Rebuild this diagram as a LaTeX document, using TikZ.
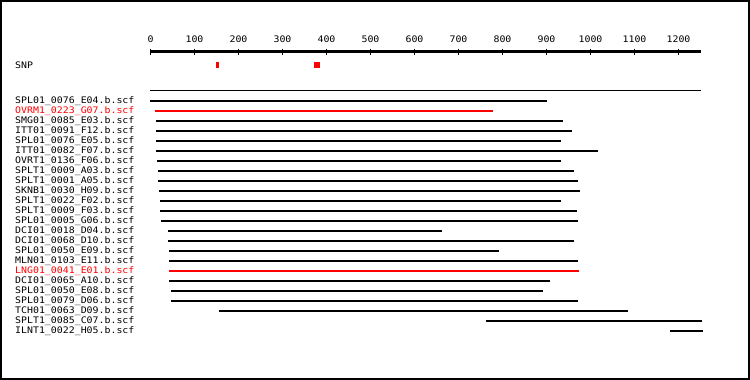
\documentclass[tikz,border=0pt]{standalone}
\usepackage{fontspec}
\newfontfamily\pixfont[FakeStretch=1.1]{DejaVu Sans Mono}
\begin{document}
\begin{tikzpicture}[x=1pt,y=-1pt,
  lbl/.style={font=\pixfont\fontsize{9}{10}\selectfont, anchor=base west, inner sep=0pt},
  ticklbl/.style={font=\pixfont\fontsize{9}{10}\selectfont, anchor=base, inner sep=0pt},
  bar/.style={line width=2pt, line cap=butt},
  axisline/.style={line width=3pt, line cap=butt},
  tickmark/.style={line width=1pt},
  snpmark/.style={fill=red, draw=none}]
\useasboundingbox (0,0) rectangle (750,380);
\draw[line width=2pt] (1,1) rectangle (749,379);
% axis
\coordinate (a0) at (150,51.5);
\coordinate (a1) at (701,51.5);
\draw[axisline] (a0) -- (a1);
\foreach \v in {0,...,12}{
  \pgfmathsetmacro\xx{150.5+44*\v}
  \pgfmathtruncatemacro\val{\v*100}
  \coordinate (t\v a) at (\xx,49);
  \coordinate (t\v b) at (\xx,55);
  \draw[tickmark] (t\v a) -- (t\v b);
  \node[ticklbl] (tl\v) at (\xx,42) {\val};
}
% SNP
\node[lbl] (snp) at (15,68) {SNP};
\fill[snpmark] (216,62) rectangle (219,68);
\fill[snpmark] (314,62) rectangle (320,68);
% separator
\coordinate (s0) at (150,90.5);
\coordinate (s1) at (701,90.5);
\draw[line width=1pt] (s0) -- (s1);
% reads
\foreach \k/\name/\s/\e/\c in {
 1/SPL01\_0076\_E04/150/547/black,
 2/OVRM1\_0223\_G07/155/493/red,
 3/SMG01\_0085\_E03/156/563/black,
 4/ITT01\_0091\_F12/156/572/black,
 5/SPL01\_0076\_E05/156/561/black,
 6/ITT01\_0082\_F07/156/598/black,
 7/OVRT1\_0136\_F06/157/561/black,
 8/SPLT1\_0009\_A03/158/574/black,
 9/SPLT1\_0001\_A05/158/578/black,
 10/SKNB1\_0030\_H09/159/580/black,
 11/SPLT1\_0022\_F02/160/561/black,
 12/SPLT1\_0009\_F03/160/577/black,
 13/SPL01\_0005\_G06/161/578/black,
 14/DCI01\_0018\_D04/168/442/black,
 15/DCI01\_0068\_D10/168/574/black,
 16/SPL01\_0050\_E09/169/499/black,
 17/MLN01\_0103\_E11/169/578/black,
 18/LNG01\_0041\_E01/169/579/red,
 19/DCI01\_0065\_A10/169/550/black,
 20/SPL01\_0050\_E08/171/543/black,
 21/SPL01\_0079\_D06/171/578/black,
 22/TCH01\_0063\_D09/219/628/black,
 23/SPLT1\_0085\_C07/486/702/black,
 24/ILNT1\_0022\_H05/670/703/black}{
  \pgfmathsetmacro\yy{91+10*\k}
  \node[lbl, text=\c] (lab\k) at (15,\yy+2.5) {\name.b.scf};
  \coordinate (r\k a) at (\s,\yy);
  \coordinate (r\k b) at (\e,\yy);
  \draw[bar, draw=\c] (r\k a) -- (r\k b);
}
\end{tikzpicture}
\end{document}
